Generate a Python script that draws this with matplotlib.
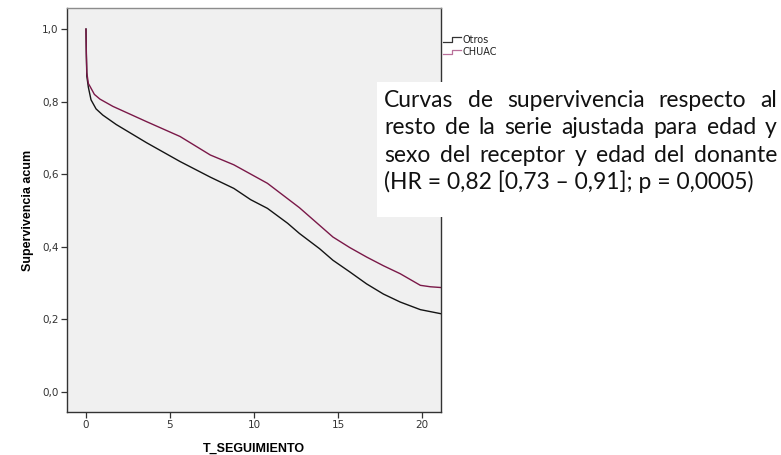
import numpy as np
import matplotlib
matplotlib.use('Agg')
import matplotlib.pyplot as plt
from matplotlib.lines import Line2D
from matplotlib.legend_handler import HandlerBase
from matplotlib.patches import Rectangle
from matplotlib.ticker import FuncFormatter

# Curvas (tiempo en años, supervivencia acumulada)
t_otros = [0, 0.0, 0.02, 0.05, 0.14, 0.3, 0.6, 1.0, 1.8, 3.6, 5.6, 7.4, 8.8, 9.8,
           10.8, 12.0, 12.7, 13.9, 14.7, 15.7, 16.7, 17.7, 18.7, 19.9, 21.1]
s_otros = [1.0, 1.0, 0.93, 0.87, 0.84, 0.805, 0.78, 0.763, 0.737, 0.687, 0.635, 0.592,
           0.561, 0.530, 0.506, 0.465, 0.437, 0.395, 0.363, 0.331, 0.298, 0.270,
           0.248, 0.227, 0.216]

t_chuac = [0, 0.0, 0.02, 0.05, 0.14, 0.24, 0.5, 0.83, 1.6, 3.6, 5.6, 7.4, 8.8, 10.8,
           12.7, 14.7, 15.7, 16.7, 17.7, 18.7, 19.9, 20.5, 21.1]
s_chuac = [1.0, 1.0, 0.94, 0.88, 0.85, 0.842, 0.82, 0.807, 0.787, 0.745, 0.704, 0.653,
           0.626, 0.575, 0.508, 0.427, 0.398, 0.372, 0.348, 0.326, 0.294, 0.290, 0.288]

grupos = ['Otros', 'CHUAC']
colores = ['#141414', '#7a1848']
colores_leyenda = ['#333333', '#b9709a']

x_ticks = [0, 5, 10, 15, 20]
y_ticks = [0.0, 0.2, 0.4, 0.6, 0.8, 1.0]

texto = ['Curvas de supervivencia respecto al',
         'resto de la serie ajustada para edad y',
         'sexo del receptor y edad del donante',
         '(HR = 0,82 [0,73 \u2013 0,91]; p = 0,0005)']


# Simbolo de escalon para la leyenda, como en SPSS
class Escalon(HandlerBase):
    def create_artists(self, legend, orig_handle, xdescent, ydescent,
                       width, height, fontsize, trans):
        xs = np.array([0, 0.5, 0.5, 1.0]) * width - xdescent
        ys = np.array([0.2, 0.2, 0.85, 0.85]) * height - ydescent
        l = Line2D(xs, ys, color=orig_handle.get_color(), lw=0.9)
        l.set_transform(trans)
        return [l]


W_PX, H_PX = 781, 455
fig = plt.figure(figsize=(W_PX / 100, H_PX / 100), dpi=100)
fig.patch.set_facecolor('white')

ax = fig.add_axes([67 / W_PX, 1 - 412 / H_PX, (441 - 67) / W_PX, (412 - 8) / H_PX])
ax.set_facecolor('#f0f0f0')

ax.plot(t_otros, s_otros, color=colores[0], lw=1.0)
ax.plot(t_chuac, s_chuac, color=colores[1], lw=1.0)

ax.set_xlim(-1.13, 21.13)
ax.set_ylim(-0.055, 1.058)
ax.set_xticks(x_ticks)
ax.set_yticks(y_ticks)
ax.yaxis.set_major_formatter(FuncFormatter(lambda v, p: ('%.1f' % v).replace('.', ',')))
ax.tick_params(axis='both', direction='out', length=4.5, width=0.9, color='#333333',
               labelsize=7.5, labelcolor='#333333', pad=1.5)

for lado in ['left', 'bottom', 'right']:
    ax.spines[lado].set_color('#333333')
    ax.spines[lado].set_linewidth(1.0)
ax.spines['top'].set_color('#8c8c8c')
ax.spines['top'].set_linewidth(1.0)

ax.set_xlabel('T_SEGUIMIENTO', fontsize=9, fontweight='bold', family='Liberation Sans',
              labelpad=9)
ax.set_ylabel('Supervivencia acum', fontsize=9, fontweight='bold', family='Liberation Sans',
              labelpad=6)

# Leyenda fuera del grafico
handles = [Line2D([], [], color=c) for c in colores_leyenda]
fig.legend(handles, grupos, loc='upper left', bbox_to_anchor=(443 / W_PX, 1 - 35 / H_PX),
           frameon=False, fontsize=7, handlelength=1.9, handletextpad=0.1,
           labelspacing=0.25, borderpad=0, borderaxespad=0,
           handler_map={Line2D: Escalon()}, labelcolor='#222222')

# Recuadro blanco con el texto (encima del grafico)
fig.add_artist(Rectangle((377 / W_PX, 1 - 217 / H_PX), (W_PX - 377) / W_PX, 135 / H_PX,
                         transform=fig.transFigure, facecolor='white',
                         edgecolor='none', zorder=5))

renderer = fig.canvas.get_renderer()
fuente = 'Lato'
x0 = 384
ancho = 393
baselines = [106.7, 134.2, 161.7, 189.2]


def medir(s, size):
    t = fig.text(0, 0, s, fontsize=size, family=fuente)
    w = t.get_window_extent(renderer).width
    t.remove()
    return w

size = 16
w_max = max(medir(s, size) for s in texto[:3])
size = size * ancho * 0.95 / w_max

for i, linea in enumerate(texto):
    yb = 1 - baselines[i] / H_PX
    if i < 3:
        palabras = linea.split(' ')
        anchos = [medir(p, size) for p in palabras]
        hueco = (ancho - sum(anchos)) / (len(palabras) - 1)
        x = x0
        for p, w in zip(palabras, anchos):
            fig.text(x / W_PX, yb, p, fontsize=size, family=fuente, color='#111111',
                     va='baseline', ha='left', zorder=6)
            x += w + hueco
    else:
        fig.text(x0 / W_PX, yb, linea, fontsize=size, family=fuente, color='#111111',
                 va='baseline', ha='left', zorder=6)

fig.savefig('out.png', dpi=100)
